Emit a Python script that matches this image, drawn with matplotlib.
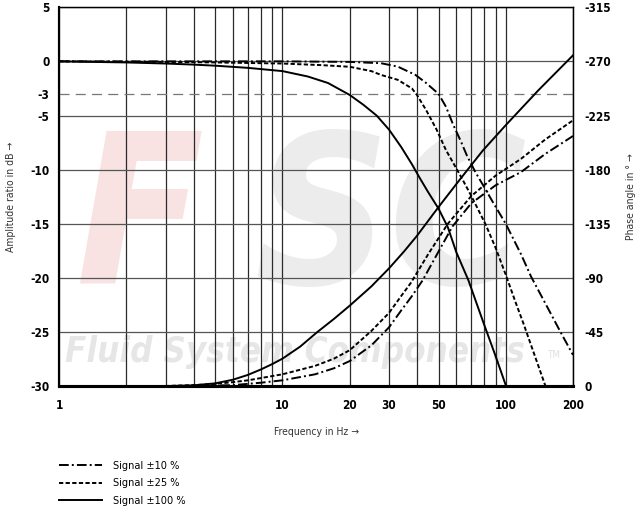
import matplotlib
matplotlib.use("Agg")
import matplotlib.pyplot as plt
import numpy as np

plt.rcParams["font.family"] = ["DejaVu Sans"]
plt.rcParams["font.stretch"] = "condensed"

# amplitude ratio in dB
amp_f_10 = [1, 10, 20, 27.6, 32.8, 39.4, 44, 50, 54, 58, 63, 67, 73, 80, 87, 100, 117, 130, 150, 176, 200]
amp_db_10 = [0, 0, -0.05, -0.17, -0.48, -1.25, -2.0, -3.0, -4.2, -5.8, -7.4, -8.7, -10.2, -11.6, -12.9, -15.0, -17.8, -19.9, -22.3, -25.0, -27.1]

amp_f_25 = [1, 3, 5, 10, 15, 20, 25, 27.6, 32.8, 38, 40, 44, 49, 54, 59, 64, 70, 81, 90, 100, 110, 120, 135, 150.7]
amp_db_25 = [0, -0.05, -0.1, -0.2, -0.35, -0.5, -0.9, -1.25, -1.7, -2.5, -3.1, -4.5, -6.3, -8.2, -9.6, -10.9, -12.4, -15.0, -17.2, -19.7, -22.1, -24.2, -27.2, -30]

amp_f_100 = [1, 2, 3, 4, 5, 7, 10, 13, 16, 20, 23, 26.4, 30, 34, 38, 41, 45, 50, 55, 60, 68, 80, 90, 100.4]
amp_db_100 = [0, -0.1, -0.2, -0.3, -0.4, -0.6, -0.9, -1.4, -2.0, -3.1, -4.0, -5.0, -6.3, -7.9, -9.5, -10.7, -12.1, -13.6, -15.3, -17.6, -20.2, -24.3, -27.2, -30]

# phase angle in degrees (magnitude, plotted negative)
ph_f_10 = [1, 4, 6, 8, 10, 14, 17, 20, 25, 30, 34, 38, 42.4, 50, 57.8, 70, 90, 117, 150, 200]
ph_deg_10 = [0, 0.3, 1, 3, 5, 10, 15, 21, 34, 49, 63, 75, 88, 112, 133, 152, 167, 178, 193, 208]

ph_f_25 = [1, 3, 4, 5, 6, 7, 10, 14, 17, 20, 25, 30, 34, 37.6, 45, 55, 70, 90, 117, 150, 200]
ph_deg_25 = [0, 0.3, 1, 2, 3.5, 5, 10, 17, 23, 30, 46, 61, 75, 86, 110, 135, 158, 175, 189, 205, 221]

ph_f_100 = [1, 3, 4, 5, 6, 7, 8, 9, 10, 12, 14.3, 17, 20, 25, 30, 35, 40, 50, 63, 79, 100, 140, 200]
ph_deg_100 = [0, 0.2, 0.8, 2.5, 5.5, 9.5, 14, 18.5, 23, 33, 45, 56, 67, 83, 98, 112, 125, 149, 173, 196, 217, 246, 275]

x_labels = [1, 10, 20, 30, 50, 100, 200]
x_minor = [2, 3, 4, 5, 6, 7, 8, 9, 40, 60, 70, 80, 90]
db_ticks = [5, 0, -3, -5, -10, -15, -20, -25, -30]
phase_ticks = [-315, -270, -225, -180, -135, -90, -45, 0]

lw = 1.4
dashdot = (5, 1.6, 1, 1.6)
dashed = (2.2, 1.2)

fig = plt.figure(figsize=(6.39, 5.07), dpi=100)
ax = fig.add_axes([0.0926, 0.238, 0.8041, 0.7478])
ax.set_xscale("log")
ax.set_xlim(1, 200)
ax.set_ylim(-30, 5)

# watermark (FSC logo + name)
ax.text(0.03, 0.27, "F", transform=ax.transAxes, fontsize=150, fontweight="bold",
        fontstyle="italic", color="#f8e2e2", zorder=0.1)
ax.text(0.38, 0.27, "SC", transform=ax.transAxes, fontsize=150, fontweight="bold",
        fontstyle="italic", color="#ececec", zorder=0.1)
ax.text(0.012, 0.065, "Fluid System Components", transform=ax.transAxes, fontsize=25,
        fontweight="bold", fontstyle="italic", color="#e6e6e6", zorder=0.1)
ax.text(0.95, 0.075, "TM", transform=ax.transAxes, fontsize=7, color="#e0e0e0", zorder=0.1)

ax.set_xticks(x_labels)
ax.set_xticklabels([str(v) for v in x_labels])
ax.set_xticks(x_minor, minor=True)
ax.set_xticklabels([], minor=True)
ax.set_yticks(db_ticks)
ax.set_yticklabels([str(v) for v in db_ticks])
ax.set_axisbelow(True)
ax.grid(axis="x", which="both", color="#2a2a2a", lw=0.9)
ax.grid(axis="y", which="major", color="#555555", lw=0.9)
for val, gl in zip(db_ticks, ax.get_ygridlines()):
    if val == -3:
        gl.set_color("#777777")
        gl.set_dashes((8, 5))
ax.tick_params(axis="both", which="both", length=0)
ax.tick_params(axis="x", pad=9, labelsize=8.5)
ax.tick_params(axis="y", pad=7, labelsize=8.5)
for lab in ax.get_xticklabels() + ax.get_yticklabels():
    lab.set_fontweight("bold")

ax.plot(amp_f_10, amp_db_10, color="black", lw=lw, dashes=dashdot, label="Signal ±10 %")
ax.plot(amp_f_25, amp_db_25, color="black", lw=lw, dashes=dashed, label="Signal ±25 %")
ax.plot(amp_f_100, amp_db_100, color="black", lw=lw, label="Signal ±100 %")

ax2 = ax.twinx()
ax2.set_ylim(0, -315)
ax2.set_yticks(phase_ticks)
ax2.set_yticklabels([str(v) for v in phase_ticks])
ax2.tick_params(axis="y", length=0, pad=8, labelsize=8.5)
for lab in ax2.get_yticklabels():
    lab.set_fontweight("bold")
ax2.plot(ph_f_10, [-p for p in ph_deg_10], color="black", lw=lw, dashes=dashdot)
ax2.plot(ph_f_25, [-p for p in ph_deg_25], color="black", lw=lw, dashes=dashed)
ax2.plot(ph_f_100, [-p for p in ph_deg_100], color="black", lw=lw)

for a in (ax, ax2):
    a.spines["left"].set_linewidth(1.5)
    a.spines["bottom"].set_linewidth(2.2)
    a.spines["top"].set_linewidth(0.9)
    a.spines["right"].set_linewidth(0.9)

ax.set_ylabel("Amplitude ratio in dB →", fontsize=7.5, color="#333333", labelpad=10)
ax2.set_ylabel("Phase angle in ° →", fontsize=7.5, color="#333333", labelpad=11)
ax.set_xlabel("Frequency in Hz →", fontsize=7.5, color="#333333", labelpad=11)

handles, labels = ax.get_legend_handles_labels()
fig.legend(handles, labels, loc="upper left", bbox_to_anchor=(0.092, 0.091), frameon=False,
           fontsize=7.8, handlelength=4.0, handletextpad=1.0, labelspacing=0.7,
           borderaxespad=0, borderpad=0)

fig.savefig("out.png", dpi=100)
